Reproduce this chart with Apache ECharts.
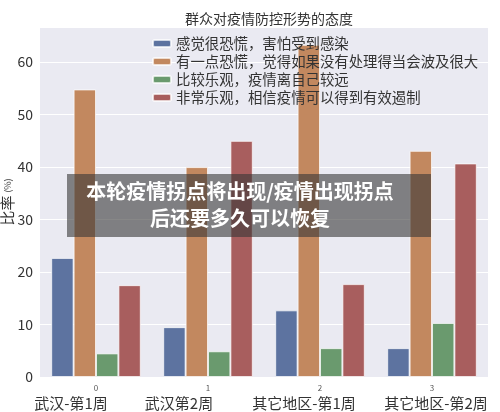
<!DOCTYPE html>
<html><head><meta charset="utf-8">
<script src="https://cdn.jsdelivr.net/npm/echarts@6/dist/echarts.min.js"></script>
<style>html,body{margin:0;padding:0;background:#fff}#c{width:500px;height:412px}</style>
</head><body><div id="c"></div>
<script>
var categories = ['武汉-第1周', '武汉第2周', '其它地区-第1周', '其它地区-第2周'];
var seriesNames = ['感觉很恐慌，害怕受到感染', '有一点恐慌，觉得如果没有处理得当会波及很大', '比较乐观，疫情离自己较远', '非常乐观，相信疫情可以得到有效遏制'];
var veryPanic = [22.7, 9.5, 12.7, 5.5];
var somePanic = [54.8, 40.0, 63.3, 43.1];
var optimistic = [4.5, 4.9, 5.5, 10.3];
var veryOptimistic = [17.5, 45.0, 17.7, 40.7];
var yTicks = [0, 10, 20, 30, 40, 50, 60];
var colors = ['#5D73A0', '#C2885F', '#6A9A6E', '#A85E5E'];
var labelShift = [50, 58, 32, -8];

var font = '"Noto Sans CJK SC", "DejaVu Sans", sans-serif';
var chart = echarts.init(document.getElementById('c'), null, {renderer: 'canvas'});
var rich = {n: {fontSize: 8, color: '#555', fontFamily: font, lineHeight: 12}};
labelShift.forEach(function (s, i) {
  rich['c' + i] = {fontSize: 15, color: '#333', fontFamily: font, lineHeight: 18,
    padding: s > 0 ? [0, s, 0, 0] : [0, 0, 0, -s]};
});
var data = [veryPanic, somePanic, optimistic, veryOptimistic];
chart.setOption({
  animation: false,
  backgroundColor: '#fff',
  textStyle: {fontFamily: font},
  title: {text: '群众对疫情防控形势的态度', left: 264, top: 7, textAlign: 'center',
    textStyle: {fontSize: 14, fontWeight: 'normal', color: '#333', fontFamily: font}},
  legend: {orient: 'vertical', left: 146, top: 33, itemWidth: 18, itemHeight: 7, itemGap: 3,
    padding: [3, 6, 3, 6],
    textStyle: {fontSize: 14.4, lineHeight: 15, color: '#333', fontFamily: font}, data: seriesNames},
  grid: {left: 40, right: 12, top: 27, bottom: 35, show: true, backgroundColor: '#EAEAF2', borderWidth: 0,
    outerBoundsMode: 'none', containLabel: false},
  xAxis: {type: 'category', data: categories,
    axisLine: {show: false}, axisTick: {show: false}, splitLine: {show: false},
    axisLabel: {margin: 5, interval: 0,
      formatter: function (v, i) { return '{n|' + i + '}\n{c' + i + '|' + v + '}'; }, rich: rich}},
  yAxis: {type: 'value', min: 0, max: 66.7, interval: 10,
    name: '{a|比率} {b|(%)}', nameLocation: 'middle', nameGap: 25, nameRotate: 90, nameMoveOverlap: false,
    nameTextStyle: {rich: {a: {fontSize: 15, color: '#333', fontFamily: font}, b: {fontSize: 9, color: '#444', fontFamily: font}}},
    axisLine: {show: false}, axisTick: {show: false},
    axisLabel: {fontSize: 14, color: '#333', margin: 7, showMaxLabel: false,
      formatter: function (v) { return yTicks.indexOf(v) >= 0 ? String(v) : ''; }},
    splitLine: {lineStyle: {color: '#fff', width: 1.2}}},
  series: data.map(function (d, i) {
    return {name: seriesNames[i], type: 'bar', data: d, barGap: '0%', barCategoryGap: '20%',
      itemStyle: {color: colors[i], borderColor: 'rgba(255,255,255,0.7)', borderWidth: 1}};
  }),
  graphic: [
    {type: 'rect', z: 100, shape: {x: 67, y: 174, width: 364, height: 63}, style: {fill: 'rgba(55,55,55,0.6)'}},
    {type: 'text', z: 101, x: 240, y: 191, style: {text: '本轮疫情拐点将出现/疫情出现拐点', fill: '#fff', font: 'bold 20px ' + font, textAlign: 'center', textVerticalAlign: 'middle'}},
    {type: 'text', z: 101, x: 240, y: 218, style: {text: '后还要多久可以恢复', fill: '#fff', font: 'bold 20px ' + font, textAlign: 'center', textVerticalAlign: 'middle'}}
  ]
});
</script></body></html>
